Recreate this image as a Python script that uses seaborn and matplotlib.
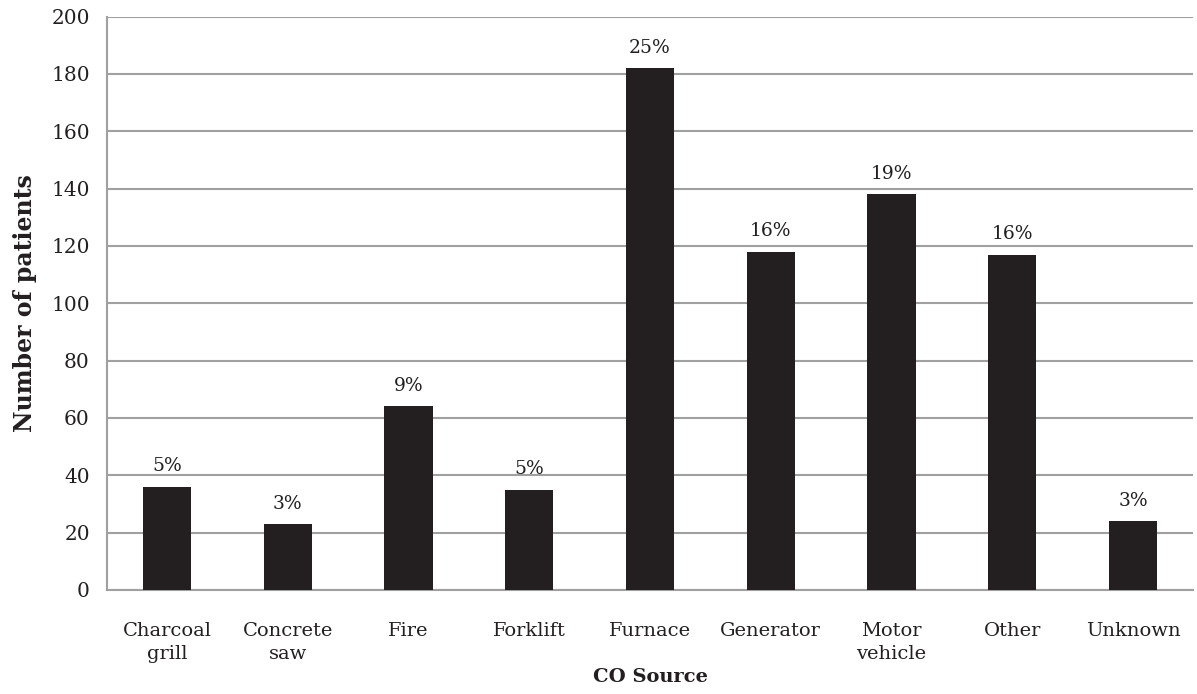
import numpy as np
import pandas as pd
import seaborn as sns
import matplotlib.pyplot as plt

# data
sources = ["Charcoal\ngrill", "Concrete\nsaw", "Fire", "Forklift", "Furnace",
           "Generator", "Motor\nvehicle", "Other", "Unknown"]
patients = [36, 23, 64, 35, 182, 118, 138, 117, 24]
shares = ["5%", "3%", "9%", "5%", "25%", "16%", "19%", "16%", "3%"]

df = pd.DataFrame({"source": sources, "patients": patients})

sns.set_style("white")
plt.rcParams["font.family"] = ["DejaVu Serif"]

fig, ax = plt.subplots(figsize=(11.97, 6.94), dpi=100)
fig.subplots_adjust(left=0.089, right=0.997, top=0.976, bottom=0.15)

sns.barplot(data=df, x="source", y="patients", color="#231f20",
            width=0.4, saturation=1, linewidth=0, ax=ax, zorder=3)

for i, (v, s) in enumerate(zip(patients, shares)):
    ax.text(i, v + 4, s, ha="center", va="bottom", fontsize=13.5, color="#231f20")

ax.set_ylim(0, 200)
ax.set_yticks(np.arange(0, 201, 20))
ax.set_xlim(-0.5, len(sources) - 0.5)
ax.yaxis.grid(True, color="#a0a0a0", linewidth=1.5, zorder=0)
ax.set_axisbelow(True)

for side in ["top", "right"]:
    ax.spines[side].set_visible(False)
for side in ["left", "bottom"]:
    ax.spines[side].set_color("#a0a0a0")
    ax.spines[side].set_linewidth(1.5)

ax.set_xticks(np.arange(len(sources)))
ax.set_xticks(np.arange(-0.5, len(sources), 1), minor=True)
ax.tick_params(axis="x", which="major", length=0, pad=23, labelsize=14, labelcolor="#231f20")
ax.tick_params(axis="x", which="minor", length=7, width=1.5, color="#a0a0a0", direction="out")
ax.tick_params(axis="y", length=7, width=1.5, color="#a0a0a0", direction="out",
               labelsize=14.5, labelcolor="#231f20", pad=5)
for lbl in ax.get_xticklabels():
    lbl.set_linespacing(1.35)

ax.set_xlabel("CO Source", fontsize=14, fontweight="bold", color="#231f20", labelpad=4)
ax.set_ylabel("Number of patients", fontsize=17, fontweight="bold", color="#231f20", labelpad=10)

fig.savefig("out.png", dpi=100)
